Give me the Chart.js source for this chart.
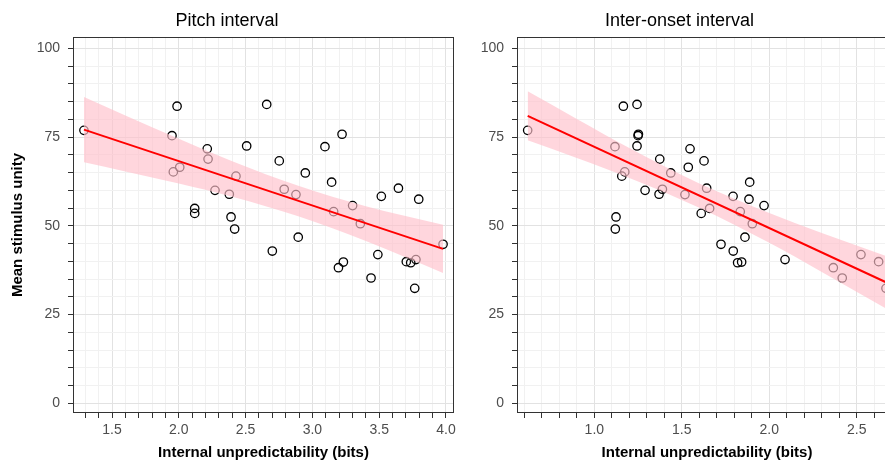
<!DOCTYPE html>
<html>
<head>
<meta charset="utf-8">
<script src="https://cdn.jsdelivr.net/npm/chart.js@4/dist/chart.umd.min.js"></script>
<style>
  body { margin: 0; width: 885px; height: 464px; overflow: hidden; background: #fff; }
  #pitch { position: absolute; left: 0; top: 0; }
  #ioi { position: absolute; left: 462px; top: 0; }
</style>
</head>
<body>
<canvas id="pitch" width="462" height="464"></canvas>
<canvas id="ioi" width="443" height="464"></canvas>
<script>
// mean stimulus unity, same stimuli in both panels
const unity = [76.9, 83.7, 75.4, 65.2, 66.5, 84.2, 71.7, 68.8, 72.5, 72.3,
  75.8, 68.3, 64.0, 64.9, 60.0, 58.9, 60.3, 58.8, 62.3, 54.9,
  53.5, 52.5, 49.1, 54.0, 55.7, 50.6, 58.3, 60.6, 57.5, 46.8,
  44.8, 42.9, 41.9, 39.8, 38.2, 39.9, 39.6, 40.5, 35.3, 32.4];

// internal unpredictability (bits)
const pitchBits = [1.29, 1.987, 1.949, 1.959, 2.007, 2.658, 2.213, 2.219, 2.508, 3.094,
  3.222, 2.752, 2.428, 2.947, 2.271, 2.378, 2.789, 2.877, 3.144, 2.119,
  2.119, 2.391, 2.418, 3.159, 3.301, 3.359, 3.516, 3.644, 3.796, 2.894,
  3.978, 2.70, 3.49, 3.232, 3.195, 3.703, 3.736, 3.775, 3.439, 3.766];
const ioiBits = [0.619, 1.166, 1.25, 1.174, 1.537, 1.244, 1.547, 1.374, 1.244, 1.118,
  1.252, 1.627, 1.157, 1.437, 1.29, 1.37, 1.389, 1.518, 1.888, 1.659,
  1.611, 1.124, 1.12, 1.834, 1.97, 1.903, 1.793, 1.642, 1.884, 1.861,
  1.724, 1.794, 2.524, 1.842, 2.366, 2.625, 1.819, 2.09, 2.417, 2.667];

// fitted line + confidence band
const pitchFitX = [1.29, 3.978];
const pitchFitY = [77.1, 43.5];
const pitchBandX = [1.29, 1.6, 2.0, 2.4, 2.9, 3.4, 3.978];
const pitchBandHi = [86.3, 81.1, 74.5, 68.2, 61.2, 55.5, 50.3];
const pitchBandLo = [67.9, 65.3, 61.9, 58.2, 52.6, 45.7, 36.7];

const ioiFitX = [0.619, 2.667];
const ioiFitY = [81.0, 34.1];
const ioiBandX = [0.619, 0.9, 1.2, 1.6, 2.0, 2.3, 2.667];
const ioiBandHi = [87.9, 80.1, 71.9, 61.9, 53.6, 48.0, 41.5];
const ioiBandLo = [74.1, 69.1, 63.5, 55.1, 45.2, 37.0, 26.7];

// tick labels
const unityTicks = [0, 25, 50, 75, 100];
const pitchTicks = [1.5, 2.0, 2.5, 3.0, 3.5, 4.0];
const ioiTicks = [1.0, 1.5, 2.0, 2.5];

const FONT = "'Liberation Sans', Arial, sans-serif";

function isMajor(list, v) {
  return list.some(m => Math.abs(m - v) < 1e-6);
}

// minor ticks (and grid lines) every `step`
function minorTicks(step) {
  return scale => {
    const out = [];
    const first = Math.ceil(scale.min / step - 1e-9);
    const last = Math.floor(scale.max / step + 1e-9);
    for (let i = first; i <= last; i++) out.push({ value: +(i * step).toFixed(4) });
    scale.ticks = out;
  };
}

const panelBorder = {
  id: 'panelBorder',
  afterDatasetsDraw(chart) {
    const { ctx, chartArea: a } = chart;
    const l = Math.round(a.left) + 0.5, t = Math.round(a.top) + 0.5;
    const r = Math.round(a.right) - 0.5, b = Math.round(a.bottom) - 0.5;
    ctx.save();
    ctx.strokeStyle = '#333';
    ctx.lineWidth = 1;
    ctx.strokeRect(l, t, r - l, b - t);
    ctx.restore();
  }
};

function pts(xs, ys) {
  return xs.map((x, i) => ({ x: x, y: ys[i] }));
}

function makePanel(id, p) {
  return new Chart(document.getElementById(id), {
    type: 'scatter',
    data: {
      datasets: [
        { data: pts(p.bits, unity), borderColor: '#000', backgroundColor: 'rgba(0,0,0,0)',
          borderWidth: 1.3, pointRadius: 4.2, order: 3 },
        { type: 'line', data: pts(p.bandX, p.bandLo), borderColor: 'rgba(0,0,0,0)', borderWidth: 0,
          pointRadius: 0, fill: false, cubicInterpolationMode: 'monotone', order: 2 },
        { type: 'line', data: pts(p.bandX, p.bandHi), borderColor: 'rgba(0,0,0,0)', borderWidth: 0,
          pointRadius: 0, fill: '-1', backgroundColor: 'rgba(255,192,203,0.65)',
          cubicInterpolationMode: 'monotone', order: 2 },
        { type: 'line', data: pts(p.fitX, p.fitY), borderColor: '#ff0000', borderWidth: 2,
          pointRadius: 0, fill: false, order: 0 }
      ]
    },
    options: {
      responsive: false,
      animation: false,
      events: [],
      layout: { padding: { left: 0, top: 0, bottom: 0, right: 8 } },
      plugins: {
        legend: { display: false },
        tooltip: { enabled: false },
        title: {
          display: true, text: p.title, color: '#000',
          font: { family: FONT, size: 18, weight: 'normal' },
          padding: { top: 10.4, bottom: 5 }
        }
      },
      scales: {
        x: {
          type: 'linear', min: p.xMin, max: p.xMax,
          afterBuildTicks: minorTicks(0.1),
          afterFit: s => { s.height = 51; s.paddingLeft = 0; s.paddingRight = 0; },
          border: { display: false },
          grid: {
            color: c => isMajor(p.xTicks, c.tick ? c.tick.value : NaN) ? '#e2e2e2' : '#f1f1f1',
            tickLength: 5, tickColor: '#333'
          },
          ticks: {
            autoSkip: false, maxRotation: 0, padding: 4, color: '#4d4d4d',
            font: { family: FONT, size: 14 },
            callback: v => isMajor(p.xTicks, v) ? v.toFixed(1) : ''
          },
          title: {
            display: true, text: 'Internal unpredictability (bits)', color: '#000',
            font: { family: FONT, size: 15, weight: 'bold' },
            padding: { top: 0, bottom: 2 }
          }
        },
        y: {
          type: 'linear', min: -2.73, max: 103.2,
          afterBuildTicks: minorTicks(5),
          afterFit: s => { s.width = p.yWidth; s.paddingTop = 0; s.paddingBottom = 0; },
          border: { display: false },
          grid: {
            color: c => isMajor(unityTicks, c.tick ? c.tick.value : NaN) ? '#e2e2e2' : '#f1f1f1',
            tickLength: 5, tickColor: '#333'
          },
          ticks: {
            autoSkip: false, padding: 8, color: '#4d4d4d',
            font: { family: FONT, size: 14 },
            callback: v => isMajor(unityTicks, v) ? String(v) : ''
          },
          title: {
            display: p.yTitle, text: 'Mean stimulus unity', color: '#000',
            font: { family: FONT, size: 15, weight: 'bold' },
            padding: { top: 9, bottom: 0 }
          }
        }
      }
    },
    plugins: [panelBorder]
  });
}

makePanel('pitch', {
  title: 'Pitch interval', bits: pitchBits, xTicks: pitchTicks,
  xMin: 1.208, xMax: 4.06, yWidth: 73, yTitle: true,
  fitX: pitchFitX, fitY: pitchFitY, bandX: pitchBandX, bandHi: pitchBandHi, bandLo: pitchBandLo
});

makePanel('ioi', {
  title: 'Inter-onset interval', bits: ioiBits, xTicks: ioiTicks,
  xMin: 0.558, xMax: 2.73, yWidth: 55, yTitle: false,
  fitX: ioiFitX, fitY: ioiFitY, bandX: ioiBandX, bandHi: ioiBandHi, bandLo: ioiBandLo
});
</script>
</body>
</html>
